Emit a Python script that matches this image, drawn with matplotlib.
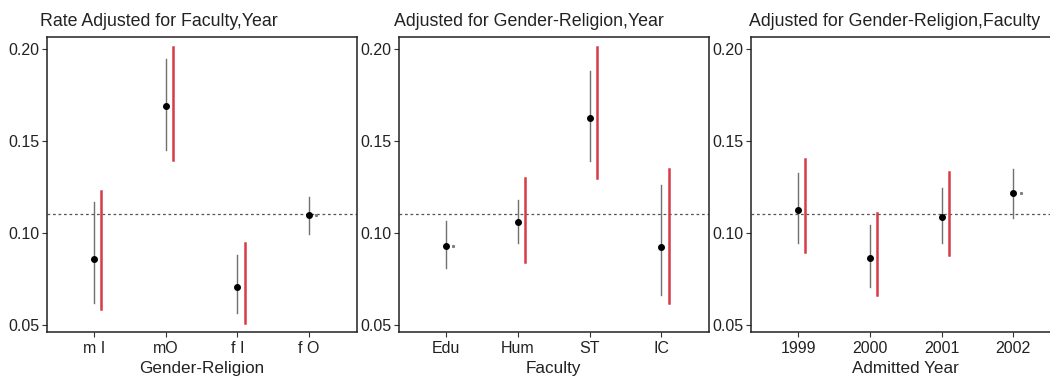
import matplotlib
matplotlib.use("Agg")
import matplotlib.pyplot as plt
import numpy as np

plt.rcParams["font.family"] = ["Liberation Sans", "DejaVu Sans"]

W, H = 1050, 378

# panel 1: Gender-Religion
gr_labels = ["m I", "mO", "f I", "f O"]
gr_est = [0.0859, 0.1692, 0.0709, 0.1098]
gr_lo = [0.0618, 0.1452, 0.0563, 0.0993]
gr_hi = [0.1171, 0.1946, 0.0881, 0.1198]
gr_red_lo = [0.0585, 0.1398, 0.0513, 0.1098]
gr_red_hi = [0.1231, 0.2011, 0.0948, 0.1098]

# panel 2: Faculty
fac_labels = ["Edu", "Hum", "ST", "IC"]
fac_est = [0.0932, 0.1059, 0.1625, 0.0926]
fac_lo = [0.0808, 0.0948, 0.1392, 0.0663]
fac_hi = [0.1068, 0.1180, 0.1884, 0.1262]
fac_red_lo = [0.0932, 0.0845, 0.1298, 0.0618]
fac_red_hi = [0.0932, 0.1298, 0.2011, 0.1349]

# panel 3: Admitted year
yr_labels = ["1999", "2000", "2001", "2002"]
yr_est = [0.1126, 0.0866, 0.1089, 0.1216]
yr_lo = [0.0948, 0.0708, 0.0948, 0.1080]
yr_hi = [0.1325, 0.1044, 0.1244, 0.1347]
yr_red_lo = [0.0895, 0.0663, 0.0881, 0.1216]
yr_red_hi = [0.1401, 0.1108, 0.1334, 0.1216]

overall = 0.1102

panels = [
    ("Rate Adjusted for Faculty,Year", "Gender-Religion", gr_labels, gr_est,
     gr_lo, gr_hi, gr_red_lo, gr_red_hi, 46.5, 40),
    ("Adjusted for Gender-Religion,Year", "Faculty", fac_labels, fac_est,
     fac_lo, fac_hi, fac_red_lo, fac_red_hi, 398.7, 394),
    ("Adjusted for Gender-Religion,Faculty", "Admitted Year", yr_labels, yr_est,
     yr_lo, yr_hi, yr_red_lo, yr_red_hi, 750.7, 749),
]

fig = plt.figure(figsize=(W / 100, H / 100), dpi=100)
top_px, bot_px, w_px = 36.5, 332.3, 310

for title, xlabel, labels, est, lo, hi, rlo, rhi, left_px, title_px in panels:
    ax = fig.add_axes([left_px / W, 1 - bot_px / H, w_px / W, (bot_px - top_px) / H])
    x = np.arange(1, len(labels) + 1)
    off = 0.1
    for xi, e, l, h, rl, rh in zip(x, est, lo, hi, rlo, rhi):
        ax.plot([xi, xi], [l, h], color="#707070", lw=1.0, zorder=2)
        if rh > rl:
            ax.plot([xi + off, xi + off], [rl, rh], color="#d83a48", lw=1.8, zorder=2)
        else:
            ax.plot([xi + off], [rl], marker="s", ms=1.2, color="#808080", zorder=2)
    ax.plot(x, est, "o", color="black", ms=4.0, zorder=3)
    ax.axhline(overall, color="#555555", ls=(0, (2.2, 2.2)), lw=0.9, zorder=1)
    ax.set_xlim(0.34, 4.66)
    ax.set_ylim(0.046, 0.207)
    ax.set_yticks([0.05, 0.10, 0.15, 0.20])
    ax.set_yticklabels(["0.05", "0.10", "0.15", "0.20"])
    ax.set_xticks(x)
    ax.set_xticklabels(labels)
    ax.tick_params(axis="both", direction="out", length=3.5, width=0.8,
                   labelsize=11.5, pad=1.5, color="#333333", labelcolor="#222222")
    ax.tick_params(axis="x", pad=2.5)
    ax.set_xlabel(xlabel, fontsize=12.3, labelpad=4, color="#222222")
    for s in ax.spines.values():
        s.set_linewidth(1.1)
        s.set_color("#222222")
    fig.text(title_px / W, 1 - 21 / H, title, ha="left", va="center",
             fontsize=12.8, color="#222222")

fig.savefig("out.png", dpi=100)
